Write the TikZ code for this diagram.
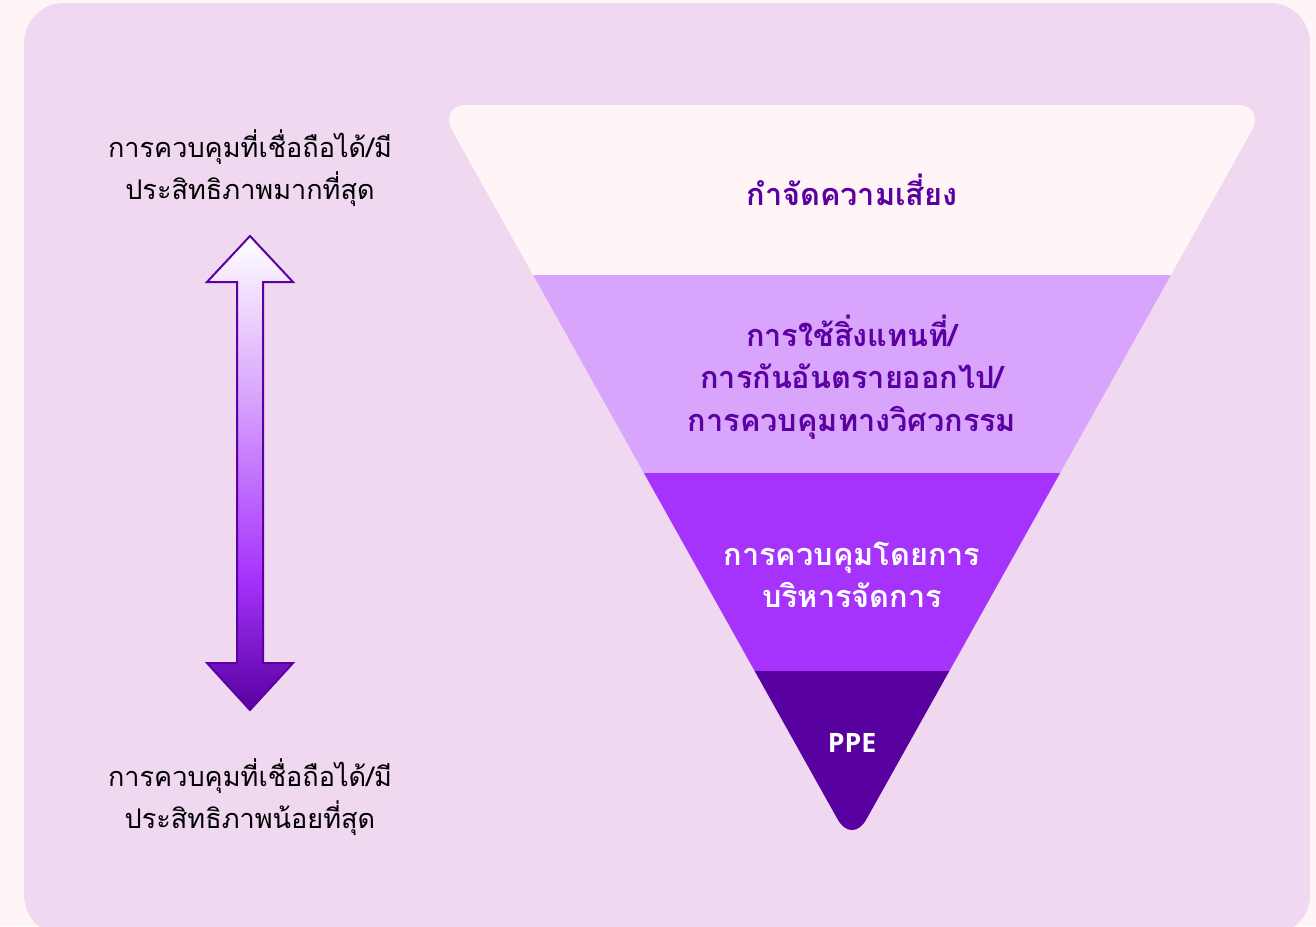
\documentclass[tikz,border=0pt]{standalone}
\usepackage{fontspec}
\newfontfamily\thaifont[Script=Thai]{Loma}
\newfontfamily\latinfont{Open Sans}
\usetikzlibrary{positioning}

\definecolor{pagebg}{HTML}{FFF5F7}
\definecolor{panelbg}{HTML}{F0D8F0}
\definecolor{bandone}{HTML}{FFF5F7}
\definecolor{bandtwo}{HTML}{D8A4FC}
\definecolor{bandthree}{HTML}{A633FC}
\definecolor{bandfour}{HTML}{5800A0}
\definecolor{inkpurple}{HTML}{5B00A3}

\pgfdeclareverticalshading{arrowfade}{100bp}{%
color(0bp)=(bandfour); color(25bp)=(bandfour); color(39bp)=(bandthree);
color(58bp)=(bandtwo); color(75bp)=(white); color(100bp)=(white)}

\begin{document}
\begin{tikzpicture}[
    x=0.75pt, y=-0.75pt,
    sidetext/.style={
        font=\thaifont\fontsize{20.3}{32}\selectfont,
        align=center,
        text=black
    },
    bandtext/.style={
        font=\thaifont\bfseries\fontsize{23}{32}\selectfont,
        align=center
    }
]

% Background
\clip (0,0) rectangle (1316,926);
\fill[pagebg] (0,0) rectangle (1316,926);
\fill[panelbg, rounded corners=30] (24,3) rectangle (1310,935);

% Double arrow
\shadedraw[shading=arrowfade, draw=inkpurple, line width=1.5pt, line join=miter]
    (250,236) -- (293,282) -- (263,282) -- (263,663) -- (293,663)
    -- (250,710) -- (207,663) -- (237,663) -- (237,282) -- (207,282) -- cycle;

% Side labels
\node[sidetext] (most) at (250,168) {การควบคุมที่เชื่อถือได้/มี\\ประสิทธิภาพมากที่สุด};
\node[sidetext] (least) at (250,797) {การควบคุมที่เชื่อถือได้/มี\\ประสิทธิภาพน้อยที่สุด};

% Funnel
\begin{scope}
\clip[rounded corners=22] (852,105) -- (1266,105) -- (852,845) -- (438,105) -- cycle;
\fill[bandone] (400,100) rectangle (1300,275);
\fill[bandtwo] (400,275) rectangle (1300,473);
\fill[bandthree] (400,473) rectangle (1300,671);
\fill[bandfour] (400,671) rectangle (1300,860);
\end{scope}

% Funnel labels
\node[bandtext, text=inkpurple] (eliminate) at (852,190) {กำจัดความเสี่ยง};
\node[bandtext, text=inkpurple] (substitute) at (852,377) {การใช้สิ่งแทนที่/\\การกันอันตรายออกไป/\\การควบคุมทางวิศวกรรม};
\node[bandtext, text=white] (admin) at (852,575) {การควบคุมโดยการ\\บริหารจัดการ};
\node[bandtext, text=white, font=\latinfont\bfseries\fontsize{20}{24}\selectfont] (ppe) at (852,743) {PPE};

\end{tikzpicture}
\end{document}
